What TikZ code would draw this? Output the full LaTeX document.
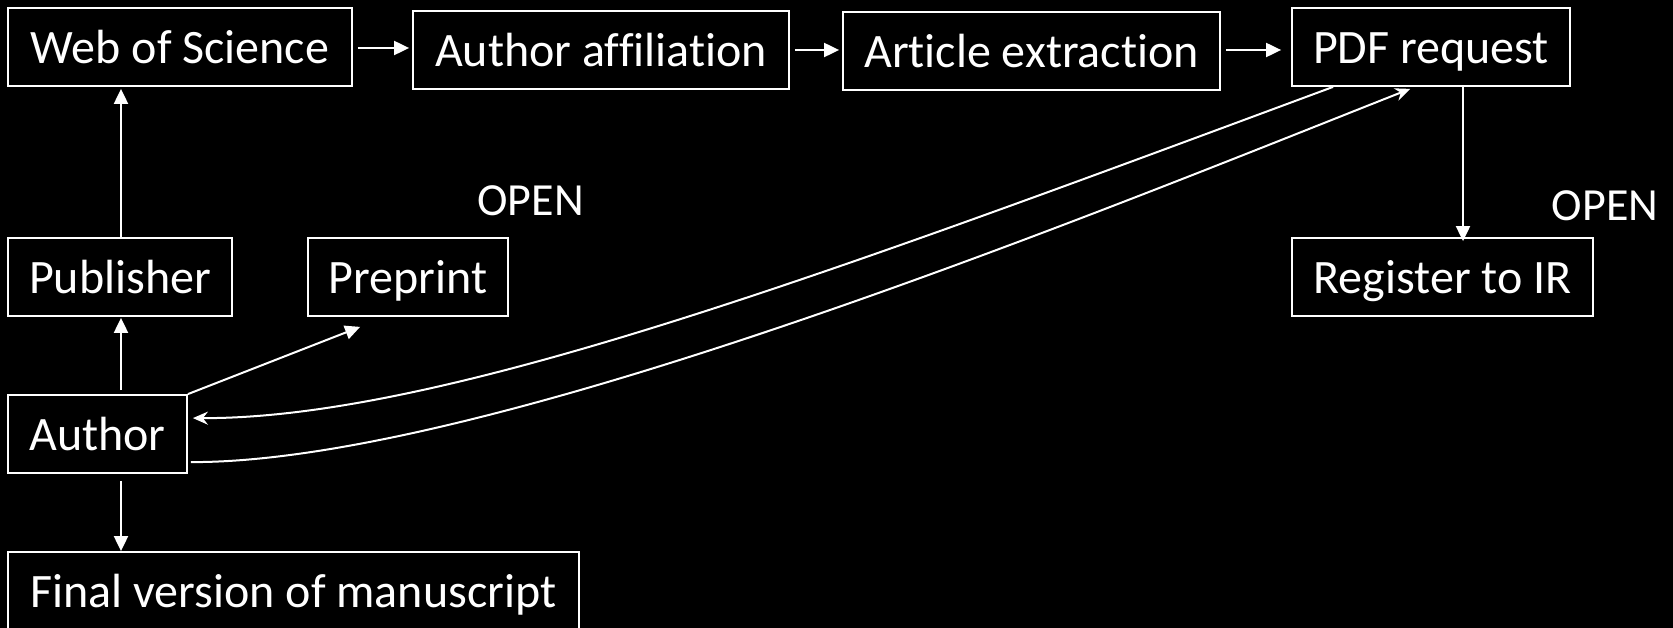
\documentclass[tikz,border=0pt]{standalone}
\usepackage{fontspec}
\setmainfont{Carlito}[Ligatures={NoCommon}]
\usetikzlibrary{arrows.meta,calc}
\begin{document}
\begin{tikzpicture}[x=1pt,y=-1pt,
  box/.style={draw=white,line width=1.8pt,text=white,inner sep=0pt,
    font=\fontsize{48}{56}\selectfont,text height=38pt,text depth=4.7pt,
    minimum height=78pt},
  lbl/.style={text=white,inner sep=0pt,font=\fontsize{46}{54}\selectfont,
    text height=35pt,text depth=6pt},
  arr/.style={draw=white,line width=2pt,-{Triangle[length=15pt,width=14pt]}},
  carr/.style={draw=white,line width=2pt,-{Stealth[length=15pt,width=13pt,inset=5pt]}}
]
\useasboundingbox (0,0) rectangle (1673,628);
\fill[black] (0,0) rectangle (1673,628);
\clip (0,0) rectangle (1673,628);

\node[box,minimum width=344pt] (wos) at (180,47) {Web of Science};
\node[box,minimum width=376pt] (aff) at (601,50) {Author affiliation};
\node[box,minimum width=377pt] (ext) at (1031.5,51) {Article extraction};
\node[box,minimum width=278pt] (pdf) at (1431,47) {PDF request};
\node[box,minimum width=224pt] (pub) at (120,277) {Publisher};
\node[box,minimum width=200pt] (pre) at (408,277) {Preprint};
\node[box,minimum width=301pt] (reg) at (1442.5,277) {Register to IR};
\node[box,minimum width=179pt] (aut) at (97.5,434) {Author};
\node[box,minimum width=571pt] (fin) at (293.5,591) {Final version of manuscript};

\node[lbl] (open1) at (530.5,201) {OPEN};
\node[lbl] (open2) at (1605,206) {OPEN};

% horizontal chain
\draw[arr] ($(wos.east)+(5,1)$) -- ($(aff.west)+(-3,-2)$);
\draw[arr] ($(aff.east)+(5,0)$) -- ($(ext.west)+(-3,-1)$);
\draw[arr] ($(ext.east)+(5,-1)$) -- ($(pdf.west)+(-10,3)$);

% vertical arrows on the left
\draw[arr] (pub.north -| 121,0) -- ($(wos.south -| 121,0)+(0,2)$);
\draw[arr] ($(aut.north -| 121,0)+(0,-4)$) -- ($(pub.south -| 121,0)+(0,1)$);
\draw[arr] ($(aut.south -| 121,0)+(0,7)$) -- (fin.north -| 121,0);

% author to preprint
\draw[arr] (aut.north east) -- ($(pre.south west)+(53,10)$);

% PDF request to register
\draw[arr] (pdf.south -| 1463,0) -- ($(reg.north -| 1463,0)+(0,4)$);

% curved connectors
\draw[carr] ($(pdf.south west)+(42,0)$) .. controls (834,272) and (442,419) .. ($(aut.north east)+(5,24)$);
\draw[carr] ($(aut.north east)+(3,68)$) .. controls (490,463) and (1111,207) .. ($(pdf.south west)+(119,2)$);
\end{tikzpicture}
\end{document}
